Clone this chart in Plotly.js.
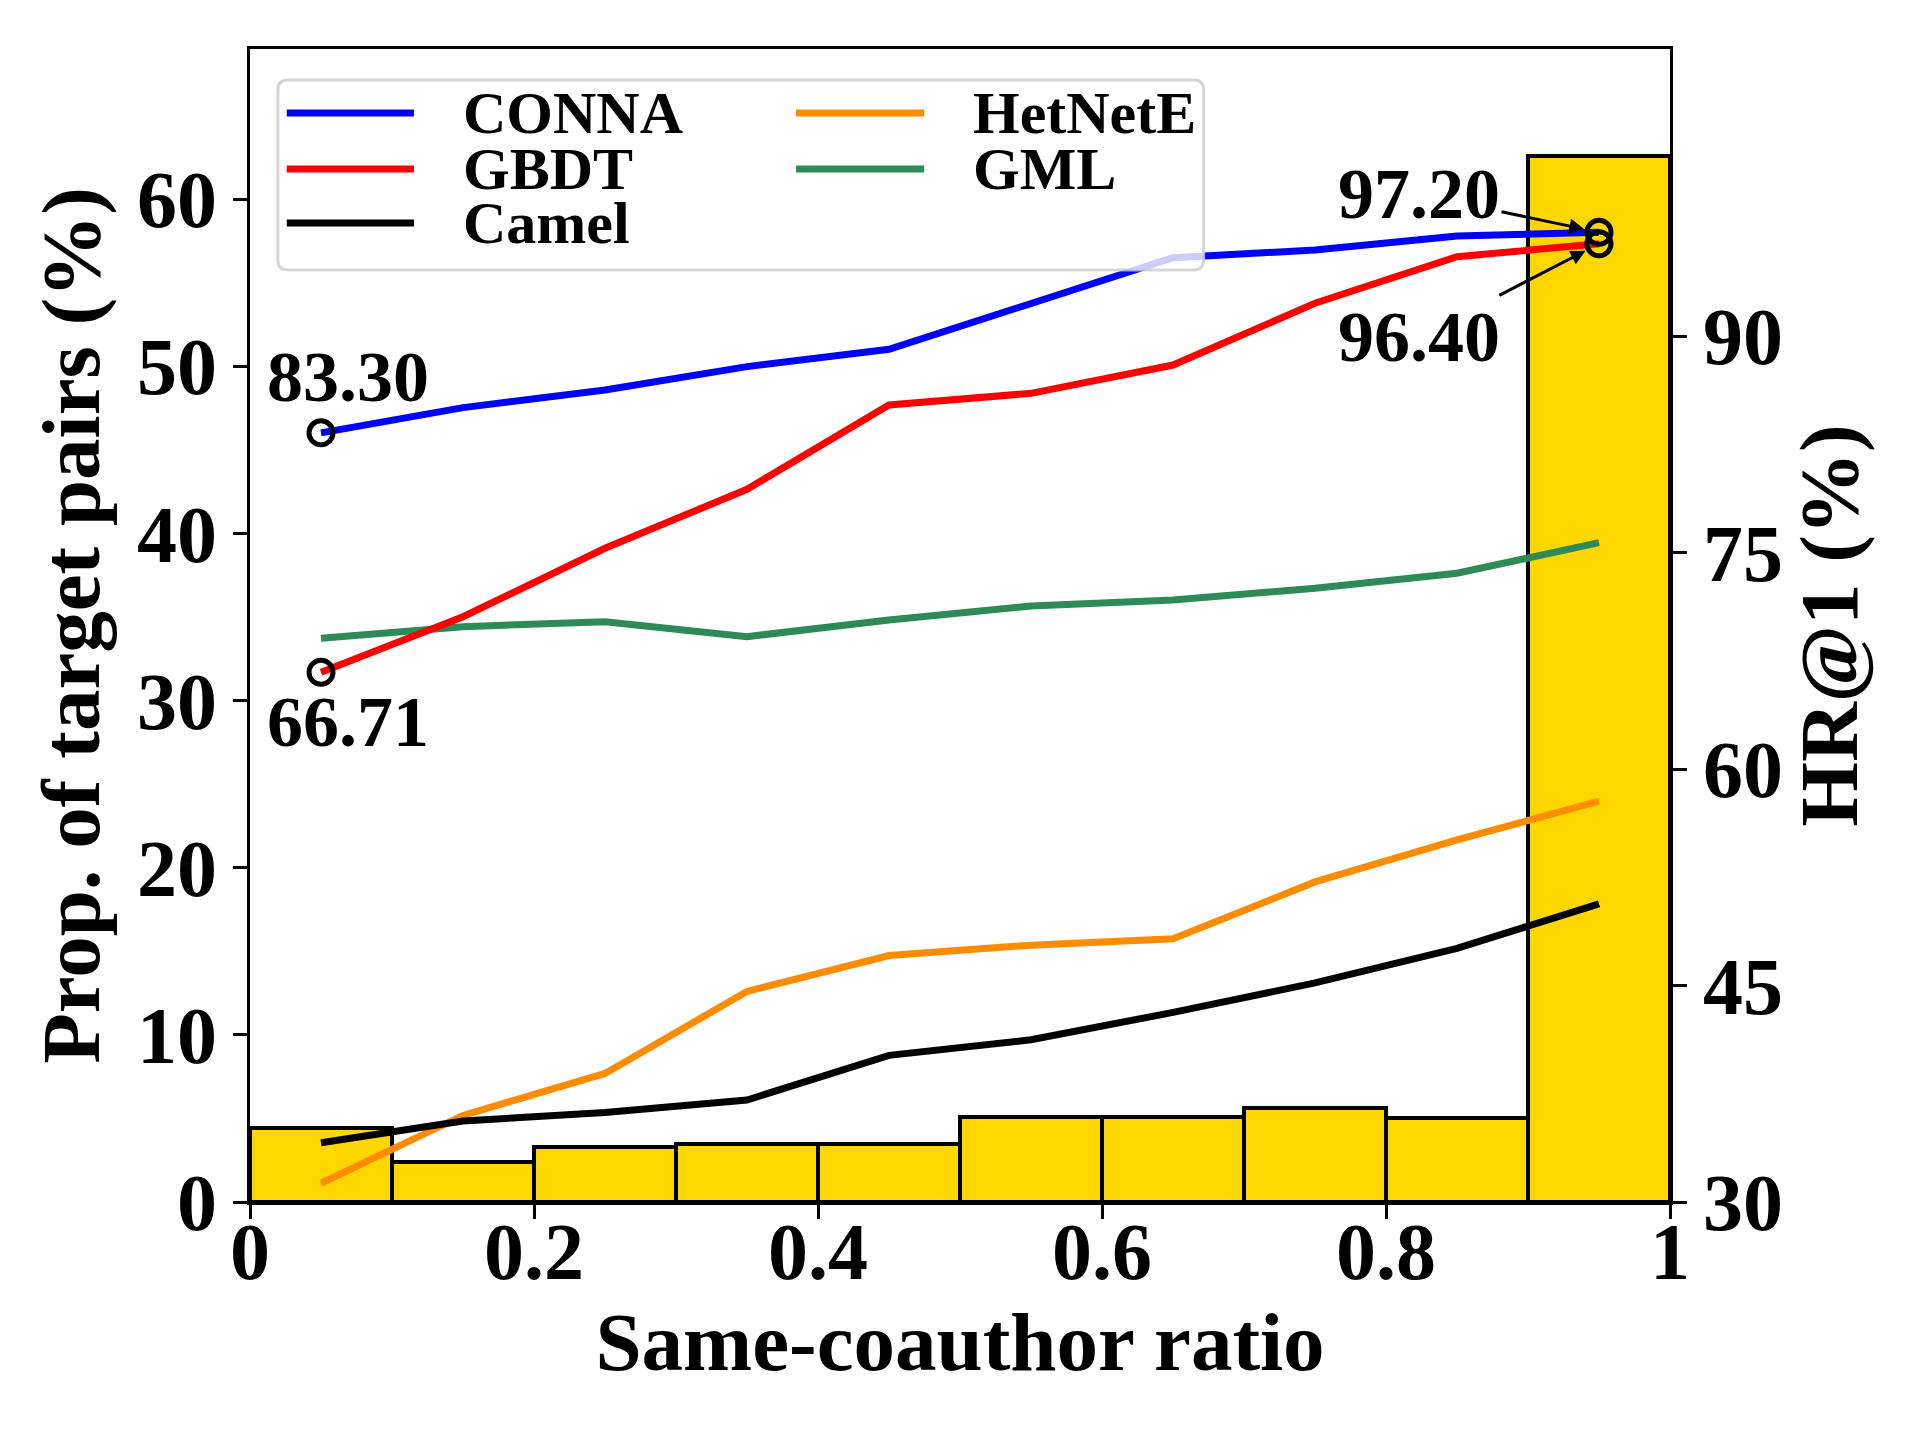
<!DOCTYPE html>
<html>
<head>
<meta charset="utf-8">
<script src="https://cdn.plot.ly/plotly-3.0.1.min.js"></script>
<style>
  body { margin: 0; background: #fff; }
  #chart { width: 1920px; height: 1440px; }
</style>
</head>
<body>
<div id="chart"></div>
<script>
// bins of same-coauthor ratio (centres)
var binCenters = [0.05, 0.15, 0.25, 0.35, 0.45, 0.55, 0.65, 0.75, 0.85, 0.95];

// proportion of target pairs per bin (%)
var propPairs = [4.4, 2.4, 3.3, 3.5, 3.5, 5.1, 5.1, 5.6, 5.0, 62.6];

// HR@1 (%) per method
var conna   = [83.30, 85.05, 86.27, 87.89, 89.09, 92.23, 95.44, 95.97, 96.94, 97.20];
var gbdt    = [66.71, 70.56, 75.30, 79.39, 85.23, 86.04, 88.00, 92.28, 95.51, 96.40];
var camel   = [34.10, 35.61, 36.20, 37.07, 40.16, 41.24, 43.14, 45.18, 47.57, 50.66];
var hetnete = [31.30, 36.00, 38.91, 44.59, 47.08, 47.80, 48.24, 52.18, 55.09, 57.78];
var gml     = [69.06, 69.87, 70.21, 69.18, 70.33, 71.30, 71.72, 72.53, 73.57, 75.69];

var methodNames  = ['CONNA', 'GBDT', 'Camel', 'HetNetE', 'GML'];
var methodValues = [conna, gbdt, camel, hetnete, gml];
var methodColors = ['#0000ff', '#ff0000', '#000000', '#ff8c00', '#2e8b57'];

var xTicks = [0, 0.2, 0.4, 0.6, 0.8, 1];
var xTickText = ['0', '0.2', '0.4', '0.6', '0.8', '1'];
var leftTicks = [0, 10, 20, 30, 40, 50, 60];
var rightTicks = [30, 45, 60, 75, 90];

var serif = 'Liberation Serif, Times New Roman, serif';

var data = [];

data.push({
    type: 'bar',
    x: binCenters,
    y: propPairs,
    width: 0.1,
    marker: { color: '#ffd700', line: { color: '#000', width: 4 } },
    yaxis: 'y',
    showlegend: false,
    hoverinfo: 'skip'
});

// draw order like the original: GML/HetNetE/Camel below, CONNA on top
var order = [4, 3, 2, 1, 0];
order.forEach(function (i) {
    data.push({
        type: 'scatter',
        mode: 'lines',
        name: methodNames[i],
        x: binCenters,
        y: methodValues[i],
        line: { color: methodColors[i], width: 7 },
        yaxis: 'y2',
        showlegend: false
    });
});

// highlighted end points
var last = binCenters.length - 1;
data.push({
    type: 'scatter',
    mode: 'markers',
    x: [binCenters[0], binCenters[0], binCenters[last], binCenters[last]],
    y: [conna[0], gbdt[0], conna[last], gbdt[last]],
    marker: { symbol: 'circle-open', size: 24, color: '#000', line: { width: 5, color: '#000' } },
    yaxis: 'y2',
    showlegend: false
});

var labelFont = { family: serif, size: 72, color: '#000', weight: 'bold' };

var annotations = [
    { x: binCenters[0], y: conna[0], xref: 'x', yref: 'y2', text: conna[0].toFixed(2),
      showarrow: false, xshift: 27, yshift: 56, font: labelFont },
    { x: binCenters[0], y: gbdt[0], xref: 'x', yref: 'y2', text: gbdt[0].toFixed(2),
      showarrow: false, xshift: 27, yshift: -50, font: labelFont },
    { x: binCenters[last], y: conna[last], xref: 'x', yref: 'y2', text: conna[last].toFixed(2),
      showarrow: true, ax: -180, ay: -38, arrowhead: 2, arrowsize: 1, arrowwidth: 3,
      arrowcolor: '#000', standoff: 15, font: labelFont },
    { x: binCenters[last], y: gbdt[last], xref: 'x', yref: 'y2', text: gbdt[last].toFixed(2),
      showarrow: true, ax: -180, ay: 93, arrowhead: 2, arrowsize: 1, arrowwidth: 3,
      arrowcolor: '#000', standoff: 15, font: labelFont }
];

// legend box (two columns) drawn in paper coords
var shapes = [];
var bx0 = 0.0196, bx1 = 0.6716, by0 = 0.8083, by1 = 0.9731, rx = 0.007, ry = 0.0087;
shapes.push({
    type: 'path', xref: 'paper', yref: 'paper', layer: 'above',
    path: 'M' + (bx0 + rx) + ',' + by1 + ' L' + (bx1 - rx) + ',' + by1 +
          ' Q' + bx1 + ',' + by1 + ' ' + bx1 + ',' + (by1 - ry) +
          ' L' + bx1 + ',' + (by0 + ry) +
          ' Q' + bx1 + ',' + by0 + ' ' + (bx1 - rx) + ',' + by0 +
          ' L' + (bx0 + rx) + ',' + by0 +
          ' Q' + bx0 + ',' + by0 + ' ' + bx0 + ',' + (by0 + ry) +
          ' L' + bx0 + ',' + (by1 - ry) +
          ' Q' + bx0 + ',' + by1 + ' ' + (bx0 + rx) + ',' + by1 + ' Z',
    fillcolor: 'rgba(255,255,255,0.8)',
    line: { color: 'rgba(204,204,204,0.8)', width: 3 }
});

var colLine = [[0.0259, 0.1155], [0.3845, 0.4748]];
var colText = [0.1485, 0.5077];
var rowY = [0.9445, 0.8959, 0.8491];
methodNames.forEach(function (name, i) {
    var c = i < 3 ? 0 : 1;
    var r = i % 3;
    shapes.push({
        type: 'line', xref: 'paper', yref: 'paper', layer: 'above',
        x0: colLine[c][0], x1: colLine[c][1], y0: rowY[r], y1: rowY[r],
        line: { color: methodColors[i], width: 7 }
    });
    annotations.push({
        xref: 'paper', yref: 'paper', x: colText[c], y: rowY[r],
        xanchor: 'left', yanchor: 'middle', showarrow: false, text: name,
        height: 52, valign: 'middle',
        font: { family: serif, size: 60, color: '#000', weight: 'bold' }
    });
});

var tickFont = { family: serif, size: 80, color: '#000', weight: 'bold' };
var titleFont = { family: serif, size: 83, color: '#000', weight: 'bold' };

var layout = {
    width: 1920,
    height: 1440,
    margin: { l: 250, r: 250, t: 49, b: 238 },
    paper_bgcolor: '#fff',
    plot_bgcolor: '#fff',
    showlegend: false,
    bargap: 0,
    xaxis: {
        range: [0, 1],
        tickvals: xTicks,
        ticktext: xTickText,
        ticks: 'outside', ticklen: 14, tickwidth: 3, tickcolor: '#000',
        ticklabelstandoff: -36,
        showline: true, linewidth: 3, linecolor: '#000', mirror: true,
        showgrid: false, zeroline: false,
        tickfont: tickFont,
        title: { text: 'Same-coauthor ratio', font: titleFont, standoff: 10 }
    },
    yaxis: {
        range: [0, 69],
        tickvals: leftTicks,
        ticks: 'outside', ticklen: 14, tickwidth: 3, tickcolor: '#000',
        showline: true, linewidth: 3, linecolor: '#000',
        showgrid: false, zeroline: false,
        tickfont: tickFont,
        title: { text: 'Prop. of target pairs (%)', font: titleFont, standoff: 10 }
    },
    yaxis2: {
        overlaying: 'y',
        side: 'right',
        range: [30, 109.9],
        tickvals: rightTicks,
        ticks: 'outside', ticklen: 14, tickwidth: 3, tickcolor: '#000',
        showline: true, linewidth: 3, linecolor: '#000',
        showgrid: false, zeroline: false,
        tickfont: tickFont,
        title: { text: 'HR@1 (%)', font: titleFont, standoff: 0 }
    },
    shapes: shapes,
    annotations: annotations
};

Plotly.newPlot(document.getElementById('chart'), data, layout, { displayModeBar: false });
</script>
</body>
</html>
